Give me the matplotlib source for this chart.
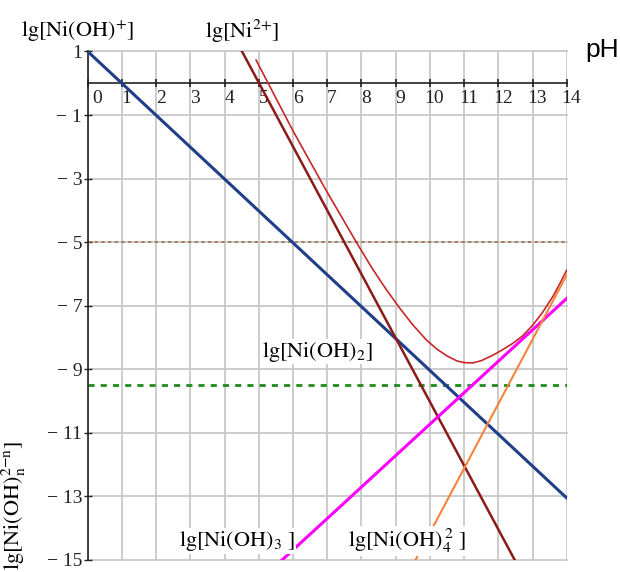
import matplotlib
matplotlib.use('Agg')
import matplotlib.pyplot as plt
import matplotlib.transforms as mtransforms

plt.rcParams['font.family'] = ['Liberation Serif', 'DejaVu Serif']
plt.rcParams['mathtext.fontset'] = 'stix'

# lines (pH, lg c)
ni_oh_ph = [0.0, 14.0]
ni_oh_lg = [1.0, -13.05]

ni_ph = [4.49, 12.48]
ni_lg = [1.04, -15.0]

ni_oh3_ph = [5.68, 14.0]
ni_oh3_lg = [-15.0, -6.77]

ni_oh4_ph = [9.58, 14.0]
ni_oh4_lg = [-15.0, -6.03]

total_ph = [4.92, 5.25, 6.0, 6.93, 7.85, 8.3, 8.7, 9.1, 9.5, 9.9, 10.2, 10.5,
            10.8, 11.0, 11.25, 11.5, 11.8, 12.1, 12.4, 12.7, 13.0, 13.3, 13.6,
            13.8, 14.0]
total_lg = [0.73, 0.05, -1.5, -3.3, -5.0, -5.8, -6.45, -7.05, -7.6, -8.08, -8.36,
            -8.58, -8.74, -8.79, -8.8, -8.73, -8.58, -8.4, -8.2, -7.96, -7.62,
            -7.2, -6.7, -6.3, -5.88]

limit_5 = -5.0
limit_ohs = -9.5

x_ticks = list(range(0, 15))
y_ticks = [1, -1, -3, -5, -7, -9, -11, -13, -15]
y_tick_labels = ['1' if v > 0 else '\u2212 ' + str(-v) for v in y_ticks]

fig = plt.figure(figsize=(6.2, 5.72), dpi=100)
ax = fig.add_axes([0.1415, 0.021, 0.7726, 0.889])

ax.set_xlim(0, 14)
ax.set_ylim(-15, 1)

ax.axhline(limit_5, color='#a0704c', lw=1.2, ls=(0, (2, 2)), zorder=2)
ax.axhline(limit_ohs, color='#1e8a1e', lw=2.0, ls=(0, (2.2, 2.2)), zorder=2)

ax.plot(ni_oh_ph, ni_oh_lg, color='#1f3f88', lw=2.2, zorder=3)
ax.plot(ni_ph, ni_lg, color='#8b1a1a', lw=1.8, zorder=3)
ax.plot(total_ph, total_lg, color='#c8262a', lw=1.2, zorder=3)
ax.plot(ni_oh3_ph, ni_oh3_lg, color='#ff00ff', lw=2.2, zorder=3)
ax.plot(ni_oh4_ph, ni_oh4_lg, color='#f4843c', lw=1.5, zorder=3)

# axes look
ax.set_xticks(x_ticks)
ax.set_xticklabels([str(v) for v in x_ticks])
ax.set_yticks(y_ticks)
ax.set_yticklabels(y_tick_labels)
ax.grid(True, color='#c8c8c8', lw=1.3, zorder=0)
ax.set_axisbelow(True)
for gl in ax.get_xgridlines() + ax.get_ygridlines():
    gl.set_clip_on(False)

ax.spines['bottom'].set_position(('data', 0))
ax.spines['bottom'].set_color('#222222')
ax.spines['bottom'].set_linewidth(1.2)
ax.spines['left'].set_color('#222222')
ax.spines['left'].set_linewidth(1.2)
ax.spines['top'].set_visible(False)
ax.spines['right'].set_visible(False)

ax.tick_params(axis='x', direction='inout', length=6, width=1.2, pad=2,
               labelsize=14, colors='#222222')
ax.tick_params(axis='y', direction='inout', length=6, width=1.0, pad=1,
               labelsize=14, colors='#222222')

for i, lab in enumerate(ax.get_xticklabels()):
    dx = 9 if i == 0 else 4.5
    lab.set_transform(lab.get_transform() +
                      mtransforms.ScaledTranslation(dx / 100, 0, fig.dpi_scale_trans))

# labels
ax.text(-0.28, 1.64, r'$\mathrm{lg[Ni(OH)}^{{+}}\mathrm{]}$', fontsize=16,
        ha='center', va='center', clip_on=False)
ax.text(4.51, 1.64, r'$\mathrm{lg[Ni}^{2{+}}\mathrm{]}$', fontsize=16,
        ha='center', va='center', clip_on=False)
ax.text(15.03, 1.04, 'pH', family='Liberation Sans', fontsize=19,
        ha='center', va='center', clip_on=False)

box = dict(facecolor='white', edgecolor='none', pad=0.5)
ax.text(6.70, -8.45, r'$\mathrm{lg[Ni(OH)}_{2}\mathrm{]}$', fontsize=16,
        ha='center', va='center', bbox=box, zorder=4)
ax.text(4.36, -14.4, r'$\mathrm{lg[Ni(OH)}_{3}\ \mathrm{]}$', fontsize=16,
        ha='center', va='center', bbox=box, zorder=4)
ax.text(9.33, -14.4, r'$\mathrm{lg[Ni(OH)}_{4}^{\,2}\ \mathrm{]}$', fontsize=16,
        ha='center', va='center', bbox=box, zorder=4)

fig.text(14 / 620, 1 - 505 / 572,
         r'$\mathrm{lg[Ni(OH)}_{\mathrm{n}}^{\mathrm{2{-}n}}\mathrm{]}$',
         fontsize=16, rotation=90, ha='center', va='center')

fig.savefig('out.png', dpi=100)
